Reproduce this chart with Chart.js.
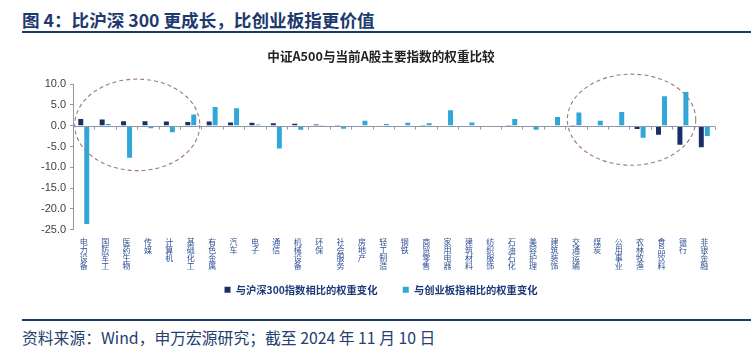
<!DOCTYPE html>
<html><head><meta charset="utf-8">
<script src="https://cdn.jsdelivr.net/npm/chart.js@4.4.1/dist/chart.umd.min.js"></script>
<style>
html,body{margin:0;padding:0;background:#fff;width:751px;height:358px;overflow:hidden;font-family:"Noto Sans CJK SC","Noto Sans",sans-serif;}
#title{position:absolute;left:22px;top:9px;font-size:17.6px;line-height:22px;font-weight:bold;color:#1d3a6e;}
#rule1{position:absolute;left:22px;top:31px;width:729px;height:2px;background:#1d3a6e;}
#rule2{position:absolute;left:22px;top:319px;width:729px;height:2px;background:#1d3a6e;}
#src{position:absolute;left:22px;top:327px;font-size:15.8px;line-height:21px;color:#24406f;}
#wrap{position:absolute;left:0;top:40px;width:751px;height:272px;}
</style></head><body>
<div id="title">图 4：比沪深 300 更成长，比创业板指更价值</div>
<div id="rule1"></div>
<div id="wrap"><canvas id="c"></canvas></div>
<div id="rule2"></div>
<div id="src">资料来源：Wind，申万宏源研究；截至 2024 年 11 月 10 日</div>
<script>
const categories = ["电力设备","国防军工","医药生物","传媒","计算机","基础化工","有色金属","汽车","电子","通信","机械设备","环保","社会服务","房地产","轻工制造","钢铁","商贸零售","家用电器","建筑材料","纺织服饰","石油石化","美容护理","建筑装饰","交通运输","煤炭","公用事业","农林牧渔","食品饮料","银行","非银金融"];
const seriesNames = ["与沪深300指数相比的权重变化","与创业板指相比的权重变化"];
const vsCSI300 = [1.6,1.5,1.1,1.1,1.0,0.9,1.0,0.8,0.7,0.6,0.5,0.3,0.2,0.1,0.1,0.1,0.05,0.1,0.1,-0.05,0.05,-0.05,0.0,0.05,-0.2,-0.3,-0.8,-2.2,-4.6,-5.2];
const vsChiNext = [-23.6,0.4,-7.7,-0.6,-1.6,2.7,4.5,4.2,0.3,-5.5,-1.0,0.05,-0.7,1.2,0.4,0.7,0.6,3.7,0.8,-0.1,1.6,-1.0,2.1,3.2,1.2,3.3,-2.9,7.1,8.1,-2.5];
const yTicks = [10,5,0,-5,-10,-15,-20,-25];

const zeroAxis = {
  id:'zeroAxis',
  afterLayout(chart){
    const dx = chart.options.plugins.zeroAxis.shift;
    [chart.titleBlock, chart.legend].forEach(b=>{ if(b){ b.left += dx; b.right += dx; } });
  },
  afterDatasetsDraw(chart){
    const {ctx, scales:{x,y}, chartArea} = chart;
    const y0 = Math.round(y.getPixelForValue(0))+0.5;
    ctx.save();
    ctx.strokeStyle = '#8f98a6'; ctx.lineWidth = 1;
    ctx.beginPath(); ctx.moveTo(chartArea.left, y0); ctx.lineTo(chartArea.right, y0); ctx.stroke();
    const n = categories.length;
    for(let i=0;i<=n;i++){
      const px = Math.round(x.getPixelForValue(i-0.5))+0.5;
      ctx.beginPath(); ctx.moveTo(px, y0); ctx.lineTo(px, y0+3); ctx.stroke();
    }
    ctx.setLineDash([4,3]); ctx.strokeStyle = '#a07a7a'; ctx.lineWidth = 1.1;
    chart.options.plugins.zeroAxis.ellipses.forEach(e=>{
      const l = x.getPixelForValue(e.x0), r = x.getPixelForValue(e.x1);
      const t = y.getPixelForValue(e.y0), b = y.getPixelForValue(e.y1);
      ctx.beginPath(); ctx.ellipse((l+r)/2,(t+b)/2,(r-l)/2,(b-t)/2,0,0,Math.PI*2); ctx.stroke();
    });
    ctx.restore();
  }
};

new Chart(document.getElementById('c'), {
  type:'bar',
  data:{
    labels: categories.map(s=>s.split('')),
    datasets:[
      {label:seriesNames[0], data:vsCSI300, backgroundColor:'#182f68', categoryPercentage:0.56, barPercentage:0.83},
      {label:seriesNames[1], data:vsChiNext, backgroundColor:'#30a7d7', categoryPercentage:0.56, barPercentage:0.83}
    ]
  },
  plugins:[zeroAxis],
  options:{
    responsive:true, maintainAspectRatio:false, animation:false,
    layout:{padding:{left:37,right:36,top:0,bottom:7}},
    plugins:{
      zeroAxis:{shift:5, ellipses:[{x0:-0.42,x1:5.42,y0:11.2,y1:-10.8},{x0:22.6,x1:28.6,y0:12.4,y1:-9.5}]},
      title:{display:true,text:'中证A500与当前A股主要指数的权重比较',color:'#222',font:{family:'"Noto Sans CJK SC"',size:12.6,weight:'bold'},padding:{top:9,bottom:20}},
      legend:{position:'bottom',labels:{boxWidth:6,boxHeight:6,color:'#1d3a78',padding:15,font:{family:'"Noto Sans CJK SC"',size:10.3,weight:'bold'},
        generateLabels(chart){
          const items = Chart.defaults.plugins.legend.labels.generateLabels(chart);
          items[0].text = items[0].text + '\u3000';
          return items;
        }}},
      tooltip:{enabled:false}
    },
    scales:{
      x:{
        grid:{display:false}, border:{display:false},
        ticks:{maxRotation:0,minRotation:0,autoSkip:false,color:'#2d4f95',padding:0,font:{family:'"Noto Sans CJK SC"',size:8,lineHeight:1.0}}
      },
      y:{
        min:-25,max:10,
        afterBuildTicks(s){ s.ticks = yTicks.map(v=>({value:v})); },
        grid:{display:true, drawOnChartArea:false, drawTicks:true, tickLength:3, color:'#8f98a6'},
        border:{display:true,color:'#8f98a6'},
        ticks:{color:'#404040',padding:4,font:{family:'"Liberation Sans"',size:11},callback:v=>Number(v).toFixed(1)}
      }
    }
  }
});
</script>
</body></html>
